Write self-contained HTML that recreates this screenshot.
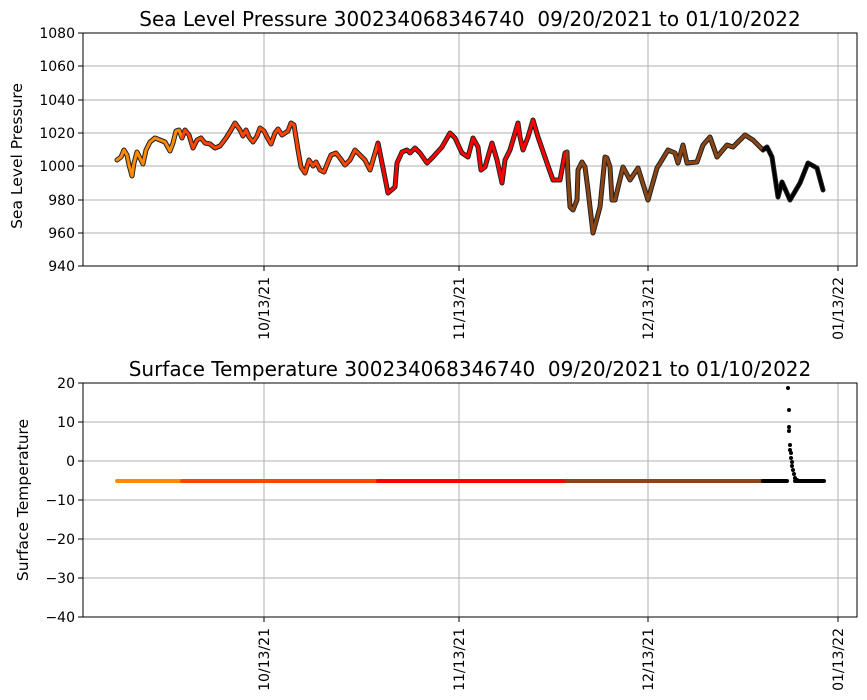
<!DOCTYPE html><html><head><style>body{margin:0;background:#fff}svg{display:block;font-family:"DejaVu Sans","Liberation Sans",sans-serif}</style></head><body>
<svg width="867" height="700" xmlns="http://www.w3.org/2000/svg">
<rect width="867" height="700" fill="#fff"/>
<g stroke="#b0b0b0" stroke-width="1">
<line x1="83" x2="857" y1="66" y2="66"/><line x1="83" x2="857" y1="100" y2="100"/><line x1="83" x2="857" y1="133" y2="133"/><line x1="83" x2="857" y1="166" y2="166"/><line x1="83" x2="857" y1="200" y2="200"/><line x1="83" x2="857" y1="233" y2="233"/>
<line x1="264" x2="264" y1="33" y2="266"/><line x1="459" x2="459" y1="33" y2="266"/><line x1="648" x2="648" y1="33" y2="266"/><line x1="838" x2="838" y1="33" y2="266"/>
<line x1="83" x2="857" y1="422" y2="422"/><line x1="83" x2="857" y1="461" y2="461"/><line x1="83" x2="857" y1="500" y2="500"/><line x1="83" x2="857" y1="539" y2="539"/><line x1="83" x2="857" y1="578" y2="578"/>
<line x1="264" x2="264" y1="383" y2="617"/><line x1="459" x2="459" y1="383" y2="617"/><line x1="648" x2="648" y1="383" y2="617"/><line x1="838" x2="838" y1="383" y2="617"/>
</g>
<g fill="none" stroke-linejoin="round" stroke-linecap="round">
<polyline stroke="#222" stroke-width="5" points="117,160 121,157 124,150 127,155 129,165 132,176 134,163 137,152 140,158 143,164 146,150 150,142 155,138 160,140 165,142 170,151 173,143 176,131 179,130 182,138 185,130 189,135 193,148 197,140 201,138 205,143 210,144 215,148 220,146 226,138 231,130 235,123 240,130 243,136 246,130 249,137 253,142 257,136 260,128 264,131 268,139 271,144 275,133 278,129 282,135 285,133 288,131 291,123 294,125 298,150 301,167 305,173 309,160 313,166 316,162 320,170 324,172 328,162 331,155 336,153 340,158 345,165 350,160 355,150 362,157 365,160 370,170 373,160 378,143 388,193 395,187 397,163 402,152 407,150 410,153 415,148 420,153 427,163 433,157 442,147 450,133 455,138 462,153 468,157 473,138 478,147 481,170 485,167 492,143 497,160 502,183 505,160 510,150 518,123 520,137 523,150 528,137 533,120 538,137 547,163 553,180 560,180 565,153 567,152 568,177 570,207 573,210 577,200 578,170 582,162 585,167 588,190 593,233 600,207 605,157 607,158 610,167 612,200 615,200 623,167 630,180 638,168 648,200 657,168 662,160 668,150 675,153 678,163 683,145 687,163 697,162 703,145 710,137 717,157 727,145 733,147 745,135 753,140 763,150 767,147 772,157 778,197 782,182 790,200 800,183 808,163 817,168 823,190"/>
<polyline stroke="#ff8c00" stroke-width="3" points="117,160 121,157 124,150 127,155 129,165 132,176 134,163 137,152 140,158 143,164 146,150 150,142 155,138 160,140 165,142 170,151 173,143 176,131 179,130 182,138"/>
<polyline stroke="#ff4500" stroke-width="3" points="182,138 185,130 189,135 193,148 197,140 201,138 205,143 210,144 215,148 220,146 226,138 231,130 235,123 240,130 243,136 246,130 249,137 253,142 257,136 260,128 264,131 268,139 271,144 275,133 278,129 282,135 285,133 288,131 291,123 294,125 298,150 301,167 305,173 309,160 313,166 316,162 320,170 324,172 328,162 331,155 336,153 340,158 345,165 350,160 355,150 362,157 365,160 370,170 373,160 378,143"/>
<polyline stroke="#ff0000" stroke-width="3" points="378,143 388,193 395,187 397,163 402,152 407,150 410,153 415,148 420,153 427,163 433,157 442,147 450,133 455,138 462,153 468,157 473,138 478,147 481,170 485,167 492,143 497,160 502,183 505,160 510,150 518,123 520,137 523,150 528,137 533,120 538,137 547,163 553,180 560,180 565,153 567,152"/>
<polyline stroke="#8b4513" stroke-width="3" points="567,152 568,177 570,207 573,210 577,200 578,170 582,162 585,167 588,190 593,233 600,207 605,157 607,158 610,167 612,200 615,200 623,167 630,180 638,168 648,200 657,168 662,160 668,150 675,153 678,163 683,145 687,163 697,162 703,145 710,137 717,157 727,145 733,147 745,135 753,140 763,150"/>
<polyline stroke="#000" stroke-width="3" points="763,150 767,147 772,157 778,197 782,182 790,200 800,183 808,163 817,168 823,190"/>
</g>
<g stroke-width="4" stroke-linecap="round">
<line x1="117" x2="182" y1="481" y2="481" stroke="#ff8c00"/>
<line x1="182" x2="378" y1="481" y2="481" stroke="#ff4500"/>
<line x1="378" x2="567" y1="481" y2="481" stroke="#ff0000"/>
<line x1="567" x2="763" y1="481" y2="481" stroke="#8b4513"/>
<line x1="763" x2="787" y1="481" y2="481" stroke="#000"/>
<line x1="795" x2="824" y1="481" y2="481" stroke="#000"/>
</g>
<g fill="#000">
<circle cx="788" cy="388" r="2"/><circle cx="789" cy="410" r="2"/><circle cx="789" cy="427" r="2"/><circle cx="789" cy="431" r="2"/><circle cx="790" cy="445" r="2"/><circle cx="790" cy="450" r="2"/><circle cx="791" cy="453" r="2"/><circle cx="791" cy="458" r="2"/><circle cx="792" cy="462" r="2"/><circle cx="792" cy="466" r="2"/><circle cx="793" cy="470" r="2"/><circle cx="794" cy="474" r="2"/><circle cx="795" cy="478" r="2"/><circle cx="797" cy="480" r="2"/>
</g>
<rect x="83" y="33" width="774" height="233" fill="none" stroke="#000" stroke-width="1"/>
<rect x="83" y="383" width="774" height="234" fill="none" stroke="#000" stroke-width="1"/>
<g stroke="#000"><line x1="78" x2="83" y1="33" y2="33"/><line x1="78" x2="83" y1="66" y2="66"/><line x1="78" x2="83" y1="100" y2="100"/><line x1="78" x2="83" y1="133" y2="133"/><line x1="78" x2="83" y1="166" y2="166"/><line x1="78" x2="83" y1="200" y2="200"/><line x1="78" x2="83" y1="233" y2="233"/><line x1="78" x2="83" y1="266" y2="266"/>
<line x1="78" x2="83" y1="383" y2="383"/><line x1="78" x2="83" y1="422" y2="422"/><line x1="78" x2="83" y1="461" y2="461"/><line x1="78" x2="83" y1="500" y2="500"/><line x1="78" x2="83" y1="539" y2="539"/><line x1="78" x2="83" y1="578" y2="578"/><line x1="78" x2="83" y1="617" y2="617"/>
<line x1="264" x2="264" y1="266" y2="271"/><line x1="459" x2="459" y1="266" y2="271"/><line x1="648" x2="648" y1="266" y2="271"/><line x1="838" x2="838" y1="266" y2="271"/>
<line x1="264" x2="264" y1="617" y2="622"/><line x1="459" x2="459" y1="617" y2="622"/><line x1="648" x2="648" y1="617" y2="622"/><line x1="838" x2="838" y1="617" y2="622"/></g>
<g font-size="14" text-anchor="end" fill="#000">
<text x="75" y="38">1080</text><text x="75" y="71">1060</text><text x="75" y="105">1040</text><text x="75" y="138">1020</text><text x="75" y="171">1000</text><text x="75" y="205">980</text><text x="75" y="238">960</text><text x="75" y="271">940</text>
<text x="75" y="388">20</text><text x="75" y="427">10</text><text x="75" y="466">0</text><text x="75" y="505">−10</text><text x="75" y="544">−20</text><text x="75" y="583">−30</text><text x="75" y="622">−40</text>
</g>
<g font-size="14" text-anchor="end">
<text transform="translate(269,277) rotate(-90)">10/13/21</text><text transform="translate(464,277) rotate(-90)">11/13/21</text><text transform="translate(653,277) rotate(-90)">12/13/21</text><text transform="translate(843,277) rotate(-90)">01/13/22</text>
<text transform="translate(269,628) rotate(-90)">10/13/21</text><text transform="translate(464,628) rotate(-90)">11/13/21</text><text transform="translate(653,628) rotate(-90)">12/13/21</text><text transform="translate(843,628) rotate(-90)">01/13/22</text>
</g>
<g font-size="15.5" text-anchor="middle">
<text transform="translate(22,156) rotate(-90)">Sea Level Pressure</text>
<text transform="translate(28,500) rotate(-90)">Surface Temperature</text>
</g>
<g font-size="20" text-anchor="middle">
<text x="470" y="26">Sea Level Pressure 300234068346740&#160; 09/20/2021 to 01/10/2022</text>
<text x="470" y="376">Surface Temperature 300234068346740&#160; 09/20/2021 to 01/10/2022</text>
</g>
</svg></body></html>
